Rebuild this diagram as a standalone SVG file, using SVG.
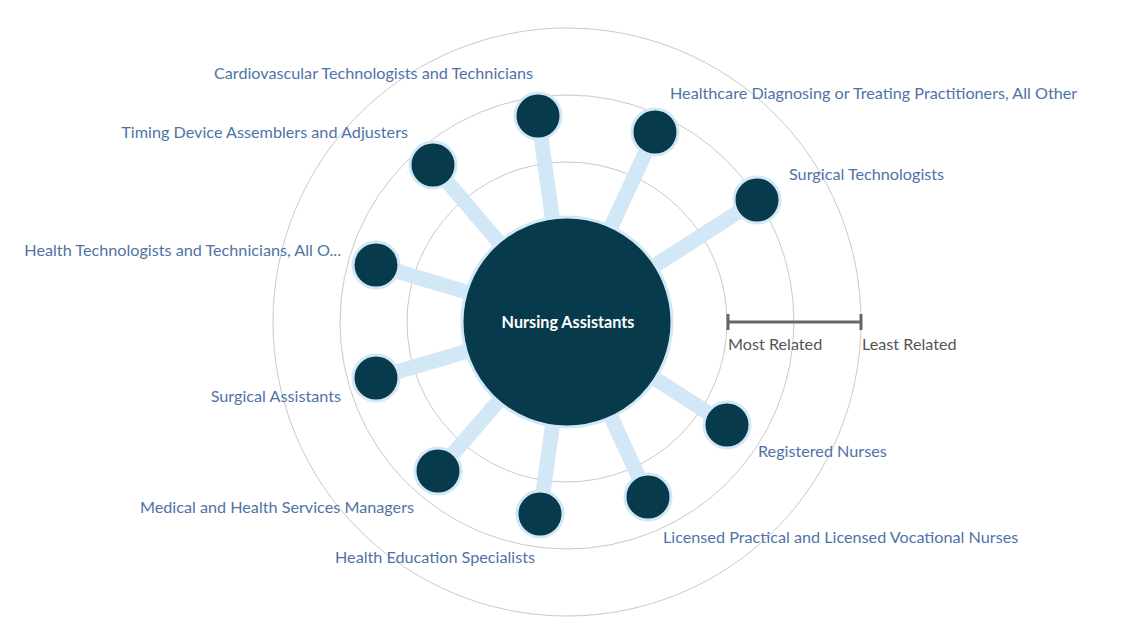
<svg xmlns="http://www.w3.org/2000/svg" width="1127" height="629" viewBox="0 0 1127 629">
<style>
.ring{fill:none;stroke:#c9c9c9;stroke-width:1}
.spoke{stroke:#d3e8f7;stroke-width:15;stroke-linecap:butt}
.sat{fill:#073a4b;stroke:#d3e8f7;stroke-width:3}
.hub{fill:#073a4b;stroke:#d3e8f7;stroke-width:3}
.lbl{font-family:Lato,"Liberation Sans",sans-serif;font-size:16.2px;fill:#4f73a6}
.scale{font-family:Lato,"Liberation Sans",sans-serif;font-size:16.2px;fill:#555}
.hubtxt{font-family:Lato,"Liberation Sans",sans-serif;font-size:16.2px;font-weight:bold;fill:#fff}
</style>
<rect width="1127" height="629" fill="#fff"/>
<g id="rings">
<circle class="ring" cx="567" cy="322" r="160"/>
<circle class="ring" cx="567" cy="322" r="227"/>
<circle class="ring" cx="567" cy="322" r="294"/>
</g>
<g id="connectors">
<line class="spoke" x1="567" y1="322" x2="538" y2="116"/>
<line class="spoke" x1="567" y1="322" x2="655" y2="132"/>
<line class="spoke" x1="567" y1="322" x2="757" y2="200"/>
<line class="spoke" x1="567" y1="322" x2="433" y2="165"/>
<line class="spoke" x1="567" y1="322" x2="376" y2="265"/>
<line class="spoke" x1="567" y1="322" x2="376" y2="378"/>
<line class="spoke" x1="567" y1="322" x2="438" y2="471"/>
<line class="spoke" x1="567" y1="322" x2="540" y2="514"/>
<line class="spoke" x1="567" y1="322" x2="648" y2="497"/>
<line class="spoke" x1="567" y1="322" x2="727" y2="425"/>
</g>
<g id="hub">
<circle class="hub" cx="567" cy="322" r="105"/>
<text class="hubtxt" x="568" y="328" text-anchor="middle">Nursing Assistants</text>
</g>
<g id="n1"><circle class="sat" cx="538" cy="116" r="23"/><text class="lbl" x="533" y="79" text-anchor="end">Cardiovascular Technologists and Technicians</text></g>
<g id="n2"><circle class="sat" cx="655" cy="132" r="23"/><text class="lbl" x="670" y="99">Healthcare Diagnosing or Treating Practitioners, All Other</text></g>
<g id="n3"><circle class="sat" cx="757" cy="200" r="23"/><text class="lbl" x="789" y="180">Surgical Technologists</text></g>
<g id="n4"><circle class="sat" cx="433" cy="165" r="23"/><text class="lbl" x="408" y="138" text-anchor="end">Timing Device Assemblers and Adjusters</text></g>
<g id="n5"><circle class="sat" cx="376" cy="265" r="23"/><text class="lbl" x="341" y="256" text-anchor="end">Health Technologists and Technicians, All O...</text></g>
<g id="n6"><circle class="sat" cx="376" cy="378" r="23"/><text class="lbl" x="341" y="402" text-anchor="end">Surgical Assistants</text></g>
<g id="n7"><circle class="sat" cx="438" cy="471" r="23"/><text class="lbl" x="414" y="513" text-anchor="end">Medical and Health Services Managers</text></g>
<g id="n8"><circle class="sat" cx="540" cy="514" r="23"/><text class="lbl" x="535" y="563" text-anchor="end">Health Education Specialists</text></g>
<g id="n9"><circle class="sat" cx="648" cy="497" r="23"/><text class="lbl" x="663" y="543">Licensed Practical and Licensed Vocational Nurses</text></g>
<g id="n10"><circle class="sat" cx="727" cy="425" r="23"/><text class="lbl" x="758" y="457">Registered Nurses</text></g>
<g id="scale">
<line x1="728" y1="322" x2="861" y2="322" stroke="#666" stroke-width="3"/>
<line x1="728" y1="314" x2="728" y2="330" stroke="#666" stroke-width="3"/>
<line x1="861" y1="314" x2="861" y2="330" stroke="#666" stroke-width="3"/>
<text class="scale" x="728" y="350">Most Related</text>
<text class="scale" x="862" y="350">Least Related</text>
</g>
</svg>
